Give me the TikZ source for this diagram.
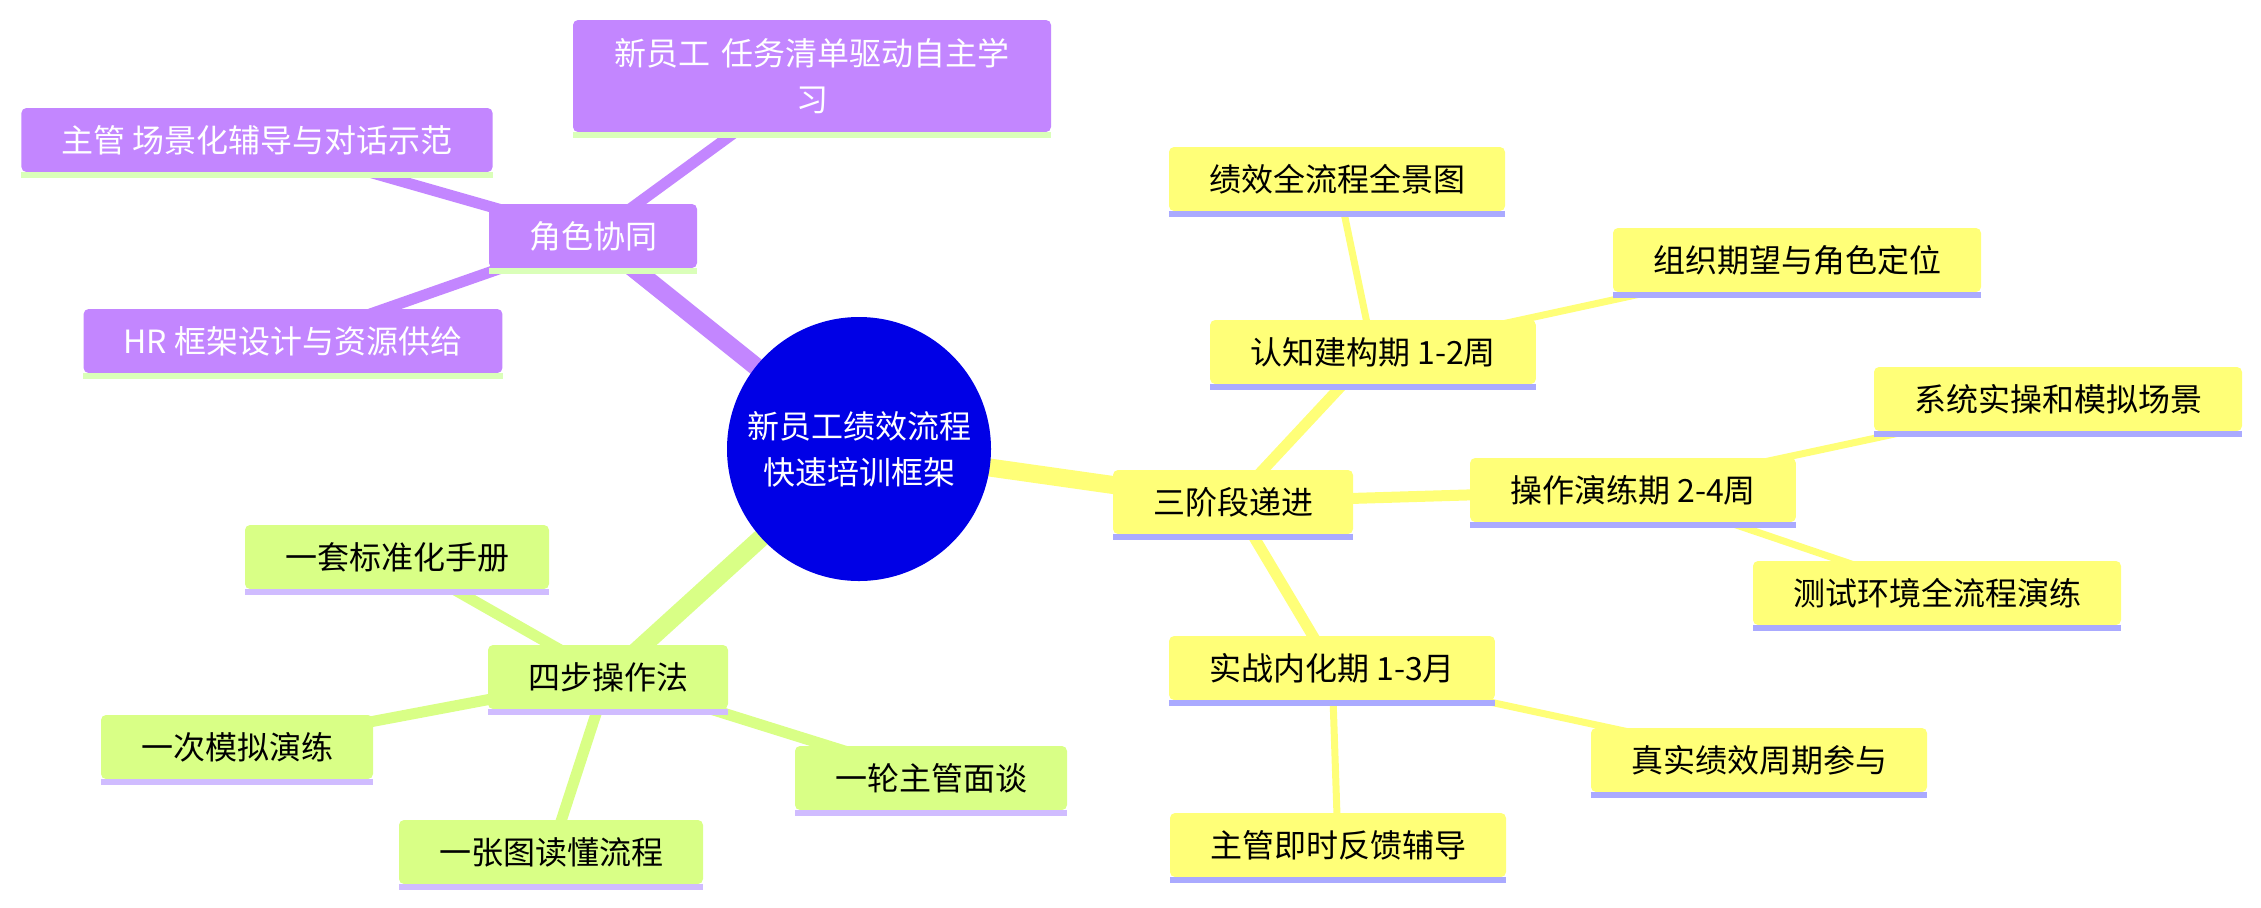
\documentclass[tikz,border=0pt]{standalone}
\usepackage{fontspec}
\setmainfont{Noto Sans CJK SC}
\usetikzlibrary{backgrounds}
\definecolor{rootblue}{RGB}{0,0,230}
\definecolor{rolepurple}{RGB}{195,134,255}
\definecolor{phaseyellow}{RGB}{255,255,120}
\definecolor{methodgreen}{RGB}{217,255,134}
\definecolor{roleline}{RGB}{218,255,185}
\definecolor{phaseline}{RGB}{170,170,255}
\definecolor{methodline}{RGB}{208,188,255}

\begin{document}
\begin{tikzpicture}[
    x=0.5pt, y=-0.5pt,
    core/.style={circle,fill=rootblue,text=white,minimum size=132pt,inner sep=0pt,
                 align=center,font=\fontsize{16pt}{23pt}\selectfont},
    box/.style={rounded corners=2.5pt,minimum height=32pt,inner xsep=20pt,inner ysep=0pt,
                align=center,font=\fontsize{16pt}{23pt}\selectfont},
    role/.style={box,fill=rolepurple,text=white},
    phase/.style={box,fill=phaseyellow},
    method/.style={box,fill=methodgreen},
    trunk/.style={line width=9pt},
    limb/.style={line width=5.5pt},
    twig/.style={line width=3.5pt}
]
  \useasboundingbox (0,0) rectangle (2261,907);

  % Centre
  \node[core] (core) at (859,449) {新员工绩效流程\\快速培训框架};

  % Roles
  \node[role] (collab) at (593,236) {角色协同};
  \node[role,text width=199pt,minimum height=56pt] (newstaff) at (812,76) {新员工 任务清单驱动自主学\\习};
  \node[role] (boss) at (257,140) {主管 场景化辅导与对话示范};
  \node[role] (hr) at (293,341) {HR 框架设计与资源供给};

  % Three phases
  \node[phase] (phases) at (1233,502) {三阶段递进};
  \node[phase] (cog) at (1373,352) {认知建构期 1-2周};
  \node[phase] (panorama) at (1337,179) {绩效全流程全景图};
  \node[phase] (orgexp) at (1797,260) {组织期望与角色定位};
  \node[phase] (ops) at (1633,490) {操作演练期 2-4周};
  \node[phase] (sysop) at (2058,399) {系统实操和模拟场景};
  \node[phase] (testenv) at (1937,593) {测试环境全流程演练};
  \node[phase] (practice) at (1332,668) {实战内化期 1-3月};
  \node[phase] (cycle) at (1759,760) {真实绩效周期参与};
  \node[phase] (feedback) at (1338,845) {主管即时反馈辅导};

  % Four steps
  \node[method] (steps) at (608,677) {四步操作法};
  \node[method] (manual) at (397,557) {一套标准化手册};
  \node[method] (drill) at (237,747) {一次模拟演练};
  \node[method] (chart) at (551,852) {一张图读懂流程};
  \node[method] (talk) at (931,778) {一轮主管面谈};

  % Underlines
  \foreach \n in {collab,newstaff,boss,hr}
    \fill[roleline] (\n.south west) rectangle ([yshift=-3pt]\n.south east);
  \foreach \n in {phases,cog,panorama,orgexp,ops,sysop,testenv,practice,cycle,feedback}
    \fill[phaseline] (\n.south west) rectangle ([yshift=-3pt]\n.south east);
  \foreach \n in {steps,manual,drill,chart,talk}
    \fill[methodline] (\n.south west) rectangle ([yshift=-3pt]\n.south east);

  % Branches
  \begin{scope}[on background layer]
    \draw[trunk,rolepurple] (core.center) -- (collab.center);
    \draw[trunk,phaseyellow] (core.center) -- (phases.center);
    \draw[trunk,methodgreen] (core.center) -- (steps.center);
    \foreach \n in {newstaff,boss,hr}
      \draw[limb,rolepurple] (collab.center) -- (\n.center);
    \foreach \n in {cog,ops,practice}
      \draw[limb,phaseyellow] (phases.center) -- (\n.center);
    \foreach \n in {manual,drill,chart,talk}
      \draw[limb,methodgreen] (steps.center) -- (\n.center);
    \draw[twig,phaseyellow] (cog.center) -- (panorama.center);
    \draw[twig,phaseyellow] (cog.center) -- (orgexp.center);
    \draw[twig,phaseyellow] (ops.center) -- (sysop.center);
    \draw[twig,phaseyellow] (ops.center) -- (testenv.center);
    \draw[twig,phaseyellow] (practice.center) -- (cycle.center);
    \draw[twig,phaseyellow] (practice.center) -- (feedback.center);
  \end{scope}
\end{tikzpicture}
\end{document}
